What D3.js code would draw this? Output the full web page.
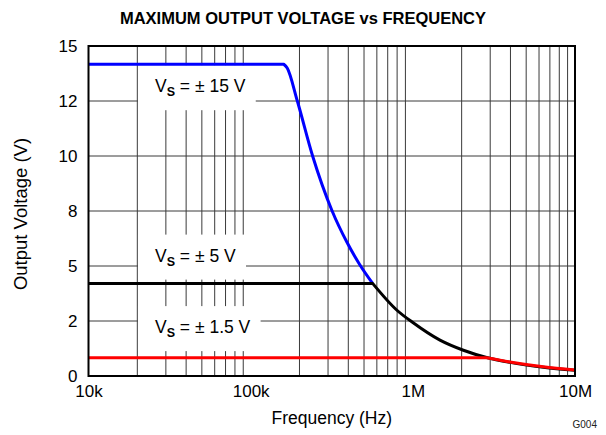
<!DOCTYPE html>
<html>
<head>
<meta charset="utf-8">
<script src="https://cdn.jsdelivr.net/npm/d3@7"></script>
<style>
  html, body { margin: 0; padding: 0; background: #fff; }
  svg { display: block; font-family: "Liberation Sans", Arial, sans-serif; }
</style>
</head>
<body>
<svg id="chart" width="606" height="435"></svg>
<script>
// ---- data ----
const xTickValues = [1e4, 1e5, 1e6, 1e7];
const xTickLabels = ["10k", "100k", "1M", "10M"];
const yTickValues = [0, 2.5, 5, 7.5, 10, 12.5, 15];
const yTickLabels = ["0", "2", "5", "8", "10", "12", "15"];

// Vs = ±15 V (blue)
const vs15Freq = [1e4, 1.6e5, 1.68e5, 1.94e5, 2.41e5, 3.18e5, 3.91e5, 4.7e5, 5.65e5];
const vs15Volt = [14.17, 14.17, 14.0, 12.5, 10.0, 7.5, 6.1, 5.07, 4.21];
// Vs = ±5 V (black)
const vs5Freq = [1e4, 5.65e5, 7.95e5, 1.0e6, 1.47e6, 2.05e6, 2.85e6, 3.97e6, 6.37e6, 1e7];
const vs5Volt = [4.21, 4.21, 3.0, 2.43, 1.63, 1.17, 0.84, 0.62, 0.40, 0.26];
// Vs = ±1.5 V (red)
const vs1p5Freq = [1e4, 2.85e6, 3.97e6, 6.37e6, 1e7];
const vs1p5Volt = [0.83, 0.83, 0.64, 0.42, 0.27];

const seriesNames = ["15", "5", "1.5"];
const seriesColors = ["#0000ff", "#000000", "#ff0000"];

// annotation anchor (frequency, voltage of text baseline)
const annotFreq = [2.57e4, 2.57e4, 2.57e4];
const annotVolt = [12.9, 5.2, 1.95];

// ---- layout ----
const svg = d3.select("#chart");
const margin = { left: 88.5, right: 31, top: 46, bottom: 59 };
const W = 606, H = 435;
const x = d3.scaleLog().domain([1e4, 1e7]).range([margin.left, W - margin.right]);
const y = d3.scaleLinear().domain([0, 15]).range([H - margin.bottom, margin.top]);

// title
svg.append("text").attr("x", 303).attr("y", 23.5).attr("text-anchor", "middle")
  .attr("font-size", 16.5).attr("font-weight", "bold").text("MAXIMUM OUTPUT VOLTAGE vs FREQUENCY");

// grid
const grid = svg.append("g").attr("stroke", "#3a3a3a").attr("stroke-width", 1);
const minorX = [];
for (let d = 1e4; d < 1e7; d *= 10) for (let k = 2; k <= 9; k++) minorX.push(d * k);
grid.selectAll("line.vx").data(minorX).join("line")
  .attr("x1", d => x(d)).attr("x2", d => x(d)).attr("y1", y(15)).attr("y2", y(0));
grid.selectAll("line.hy").data(yTickValues.slice(1, -1)).join("line")
  .attr("x1", x(1e4)).attr("x2", x(1e7)).attr("y1", d => y(d)).attr("y2", d => y(d));

// annotation boxes (white backgrounds hiding the grid) + text
const annG = svg.append("g");
seriesNames.forEach((nm, i) => {
  const tx = x(annotFreq[i]), ty = y(annotVolt[i]);
  const g = annG.append("g");
  const rect = g.append("rect").attr("fill", "#fff");
  const t = g.append("text").attr("x", tx).attr("y", ty).attr("font-size", 17.5);
  t.append("tspan").text("V");
  t.append("tspan").attr("font-size", 12.5).attr("font-weight", "bold").attr("dy", 4).text("S");
  t.append("tspan").attr("dy", -4).text(" = \u00B1 " + nm + " V");
  const bb = t.node().getBBox();
  rect.attr("x", tx - 17).attr("y", ty - 27).attr("width", bb.width + 27).attr("height", 45);
});

// lines: flat plateau drawn straight, roll-off drawn as a smooth curve
const lineLin = d3.line().x(d => x(d[0])).y(d => y(d[1]));
const lineSmooth = d3.line().x(d => x(d[0])).y(d => y(d[1])).curve(d3.curveMonotoneX);
const seriesData = [
  d3.zip(vs15Freq, vs15Volt),
  d3.zip(vs5Freq, vs5Volt),
  d3.zip(vs1p5Freq, vs1p5Volt)
];
function pathFor(pts) {
  let k = 0;
  while (k + 1 < pts.length && pts[k + 1][1] === pts[0][1]) k++;
  const flat = pts.slice(0, k + 1), tail = pts.slice(k);
  return lineLin(flat) + (tail.length > 1 ? "L" + lineSmooth(tail).slice(1) : "");
}
svg.append("g").selectAll("path").data(seriesData).join("path")
  .attr("d", pathFor).attr("fill", "none")
  .attr("stroke", (d, i) => seriesColors[i]).attr("stroke-width", 3)
  .attr("stroke-linejoin", "round");

// frame
svg.append("rect").attr("x", x(1e4)).attr("y", y(15))
  .attr("width", x(1e7) - x(1e4)).attr("height", y(0) - y(15))
  .attr("fill", "none").attr("stroke", "#000").attr("stroke-width", 2);

// axes
const xAxis = d3.axisBottom(x).tickValues(xTickValues)
  .tickFormat((d, i) => xTickLabels[i]).tickSize(0).tickPadding(9);
const gx = svg.append("g").attr("transform", `translate(0,${y(0)})`).call(xAxis);
gx.select(".domain").remove();
gx.selectAll("text").attr("font-size", 17).attr("font-family", null).attr("fill", "#000");

const yAxis = d3.axisLeft(y).tickValues(yTickValues)
  .tickFormat((d, i) => yTickLabels[i]).tickSize(0).tickPadding(11);
const gy = svg.append("g").attr("transform", `translate(${x(1e4)},0)`).call(yAxis);
gy.select(".domain").remove();
gy.selectAll("text").attr("font-size", 17).attr("font-family", null).attr("fill", "#000");

// axis titles
svg.append("text").attr("x", (x(1e4) + x(1e7)) / 2).attr("y", 424).attr("text-anchor", "middle")
  .attr("font-size", 17.5).text("Frequency (Hz)");
svg.append("text").attr("transform", `translate(26.5,214) rotate(-90)`)
  .attr("text-anchor", "middle").attr("font-size", 18.5).text("Output Voltage (V)");

svg.append("text").attr("x", 597).attr("y", 428).attr("text-anchor", "end")
  .attr("font-size", 10).attr("fill", "#222").text("G004");
</script>
</body>
</html>
